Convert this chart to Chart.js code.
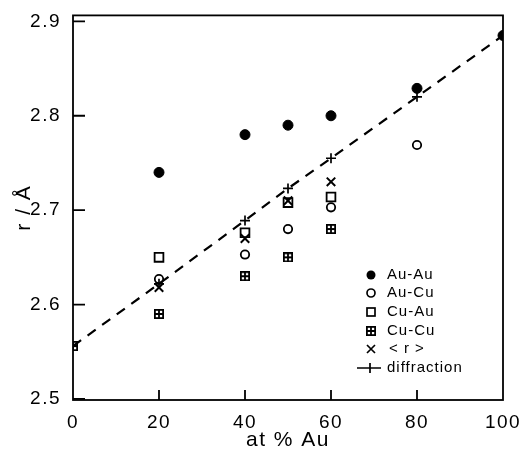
<!DOCTYPE html>
<html>
<head>
<meta charset="utf-8">
<script src="https://cdn.jsdelivr.net/npm/chart.js@4"></script>
<style>
  html, body { margin: 0; padding: 0; background: #fff; }
  #wrap { width: 531px; height: 454px; }
</style>
</head>
<body>
<div id="wrap"><canvas id="rdist"></canvas></div>
<script>
// values
const xTicks = [0, 20, 40, 60, 80, 100];
const yTicks = [2.5, 2.6, 2.7, 2.8, 2.9];

const auAuX = [20, 40, 50, 60, 80, 100];
const auAu = [2.74, 2.78, 2.79, 2.80, 2.829, 2.885];
const auCuX = [20, 40, 50, 60, 80];
const auCu = [2.627, 2.653, 2.68, 2.703, 2.769];
const cuAuX = [20, 40, 50, 60];
const cuAu = [2.65, 2.676, 2.708, 2.714];
const cuCuX = [0, 20, 40, 50, 60];
const cuCu = [2.556, 2.59, 2.63, 2.65, 2.68];
const rAvgX = [20, 40, 50, 60];
const rAvg = [2.618, 2.67, 2.71, 2.73];
const diffX = [0, 20, 40, 50, 60, 80, 100];
const diff = [2.556, 2.622, 2.689, 2.723, 2.755, 2.82, 2.885];

const pts = (xs, ys) => xs.map((x, i) => ({ x: x, y: ys[i] }));

// hatched square marker (Cu-Cu)
function hatchSquare(size) {
  const c = document.createElement("canvas");
  c.width = size; c.height = size;
  const g = c.getContext("2d");
  g.strokeStyle = "#000";
  g.lineWidth = 1.8;
  g.strokeRect(0.9, 0.9, size - 1.8, size - 1.8);
  g.beginPath();
  g.moveTo(size / 2, 0); g.lineTo(size / 2, size);
  g.moveTo(0, size / 2); g.lineTo(size, size / 2);
  g.stroke();
  return c;
}
const cuCuMark = hatchSquare(10);

const FONT = "'Liberation Sans', Arial, sans-serif";

// wider letter spacing like the scanned figure
const spacing = {
  id: "spacing",
  beforeDraw(chart) { chart.ctx.letterSpacing = "1.5px"; }
};

// frame, inward ticks and in-plot legend
const frame = {
  id: "frame",
  afterDatasetsDraw(chart) {
    const { ctx, chartArea: a, scales } = chart;
    ctx.save();
    ctx.strokeStyle = "#000";
    ctx.lineWidth = 1.8;
    ctx.strokeRect(a.left, a.top, a.right - a.left, a.bottom - a.top);
    ctx.beginPath();
    yTicks.forEach(v => {
      const y = scales.y.getPixelForValue(v);
      ctx.moveTo(a.left, y); ctx.lineTo(a.left + 12, y);
    });
    xTicks.slice(1, -1).forEach(v => {
      const x = scales.x.getPixelForValue(v);
      ctx.moveTo(x, a.bottom); ctx.lineTo(x, a.bottom - 10);
    });
    ctx.stroke();

    // legend
    const lx = 371, tx = 387;
    const rows = [275, 293, 312, 331, 349, 368];
    const labels = ["Au-Au", "Au-Cu", "Cu-Au", "Cu-Cu", "< r >", "diffraction"];
    ctx.font = "15px " + FONT;
    ctx.letterSpacing = "1px";
    ctx.fillStyle = "#000";
    ctx.textBaseline = "middle";
    labels.forEach((t, i) => ctx.fillText(t, i === 4 ? tx + 2 : tx, rows[i]));
    ctx.lineWidth = 1.7;
    // filled circle
    ctx.beginPath(); ctx.arc(lx, rows[0], 4.5, 0, Math.PI * 2); ctx.fill();
    // open circle
    ctx.beginPath(); ctx.arc(lx, rows[1], 4, 0, Math.PI * 2); ctx.stroke();
    // open square
    ctx.strokeRect(lx - 4, rows[2] - 4, 8, 8);
    // hatched square
    ctx.drawImage(cuCuMark, lx - 5, rows[3] - 5);
    // x
    ctx.beginPath();
    ctx.moveTo(lx - 4, rows[4] - 4); ctx.lineTo(lx + 4, rows[4] + 4);
    ctx.moveTo(lx + 4, rows[4] - 4); ctx.lineTo(lx - 4, rows[4] + 4);
    // line with plus
    ctx.moveTo(357, rows[5]); ctx.lineTo(381, rows[5]);
    ctx.moveTo(370, rows[5] - 5); ctx.lineTo(370, rows[5] + 5);
    ctx.stroke();
    ctx.restore();
  }
};

const ctx = document.getElementById("rdist").getContext("2d");
const rdist = new Chart(ctx, {
  type: "scatter",
  data: {
    datasets: [
      {
        label: "diffraction",
        data: pts(diffX, diff),
        showLine: true,
        borderColor: "#000",
        borderWidth: 2.2,
        borderDash: [10, 8],
        pointStyle: "cross",
        pointRadius: 5,
        pointBorderWidth: 1.7,
        pointBorderColor: "#000",
      },
      {
        label: "Au-Au",
        data: pts(auAuX, auAu),
        pointStyle: "circle",
        pointRadius: 5,
        backgroundColor: "#000",
        borderColor: "#000",
      },
      {
        label: "Au-Cu",
        data: pts(auCuX, auCu),
        pointStyle: "circle",
        pointRadius: 4.2,
        pointBorderWidth: 1.8,
        backgroundColor: "#fff",
        borderColor: "#000",
      },
      {
        label: "Cu-Au",
        data: pts(cuAuX, cuAu),
        pointStyle: "rect",
        pointRadius: 6.2,
        pointBorderWidth: 1.8,
        backgroundColor: "rgba(255,255,255,0)",
        borderColor: "#000",
      },
      {
        label: "Cu-Cu",
        data: pts(cuCuX, cuCu),
        pointStyle: cuCuMark,
      },
      {
        label: "<r>",
        data: pts(rAvgX, rAvg),
        pointStyle: "crossRot",
        pointRadius: 6,
        pointBorderWidth: 2,
        borderColor: "#000",
      },
    ],
  },
  options: {
    responsive: true,
    maintainAspectRatio: false,
    animation: false,
    layout: { padding: { top: 14, right: 28 } },
    plugins: { legend: { display: false }, tooltip: { enabled: false } },
    scales: {
      x: {
        type: "linear",
        min: 0,
        max: 100,
        afterBuildTicks: s => { s.ticks = xTicks.map(v => ({ value: v })); },
        afterFit: s => { s.height = 54; },
        grid: { display: false },
        border: { display: false },
        ticks: {
          color: "#000",
          padding: 3,
          font: { family: FONT, size: 19 },
        },
        title: {
          display: true,
          text: "at % Au",
          color: "#000",
          font: { family: FONT, size: 21 },
          padding: { top: 0, bottom: 1 },
        },
      },
      y: {
        type: "linear",
        min: 2.4989,
        max: 2.9063,
        afterBuildTicks: s => { s.ticks = yTicks.map(v => ({ value: v })); },
        afterFit: s => { s.width = 73; },
        grid: { display: false },
        border: { display: false },
        ticks: {
          color: "#000",
          padding: 4,
          font: { family: FONT, size: 19 },
          callback: v => v.toFixed(1),
        },
        title: {
          display: true,
          text: "r / Å",
          color: "#000",
          font: { family: FONT, size: 21 },
          padding: { top: 12, bottom: 0 },
        },
      },
    },
  },
  plugins: [spacing, frame],
});
</script>
</body>
</html>
